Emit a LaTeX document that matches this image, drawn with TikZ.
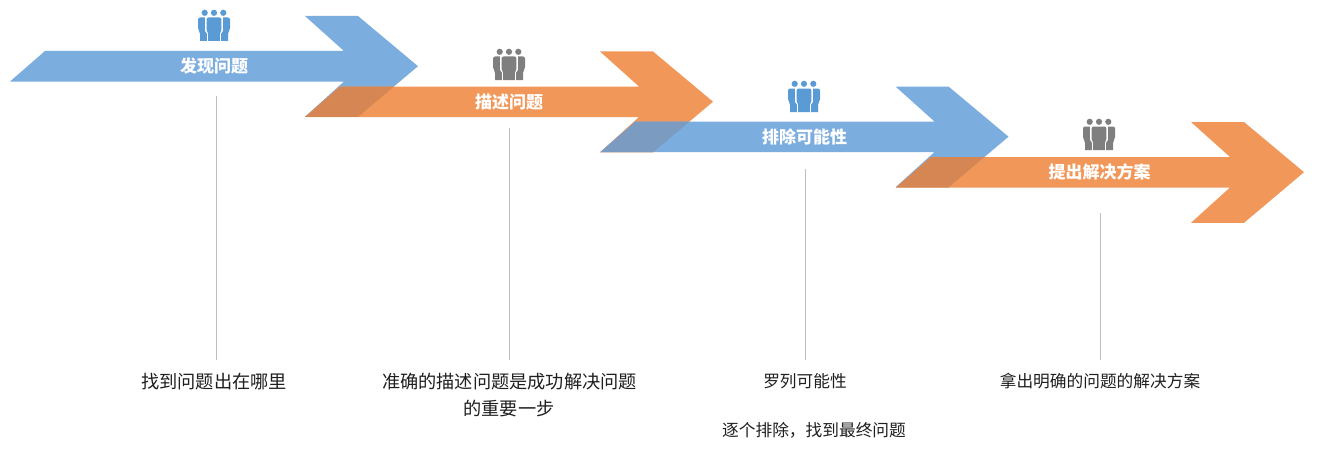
\documentclass[tikz,border=0pt]{standalone}
\usepackage{fontspec}
\setmainfont{Noto Sans CJK SC}
\definecolor{arrowblue}{HTML}{7CADDF}
\definecolor{arroworange}{HTML}{F19759}
\definecolor{mixorange}{HTML}{D58652}
\definecolor{mixblue}{HTML}{7B9BC0}
\definecolor{iconblue}{HTML}{5B9BD5}
\definecolor{icongray}{HTML}{7F7F7F}
\definecolor{leader}{HTML}{BFBFBF}
\newcommand{\ArrowShape}[2]{[shift={(#1,#2)}] (0,0) -- (35,-30.5) -- (334,-30.5) -- (295,-65.5) -- (348,-65.5) -- (408,-15.3) -- (348,35.3) -- (295,35.3) -- (334,0) -- cycle}
\newcommand{\Overlap}[5]{\begin{scope}\clip \ArrowShape{#1}{#2}; \fill[#5] \ArrowShape{#3}{#4};\end{scope}}
\tikzset{
  x=1pt,y=-1pt,
  title/.style={text=white,font=\fontsize{17}{20}\selectfont\bfseries,inner sep=0pt,anchor=center},
  caption/.style={text=black!88,font=\fontsize{18.2}{22}\selectfont,inner sep=0pt,anchor=center},
  smallcaption/.style={caption,font=\fontsize{16.7}{20}\selectfont},
  leaderline/.style={draw=leader,line width=0.9pt},
  person/.pic={
    \fill (-9.3,-3.2) circle (3.1) (0,-3.2) circle (3.1) (9.3,-3.2) circle (3.1);
    \fill (-14,25) -- (-14,18) -- (-16,12) [rounded corners=2pt] -- (-16,1.5) -- (-10,1.5) [sharp corners] -- (-5,1.5) -- (-5,25) -- cycle;
    \fill (14,25) -- (14,18) -- (16,12) [rounded corners=2pt] -- (16,1.5) -- (10,1.5) [sharp corners] -- (5,1.5) -- (5,25) -- cycle;
    \fill[white] (-8.8,0.5) -- (8.8,0.5) -- (8.8,15) -- (6.8,18) -- (6.8,26) -- (-6.8,26) -- (-6.8,18) -- (-8.8,15) -- cycle;
    \fill (-5.8,25) -- (-5.8,18) -- (-7.4,14) [rounded corners=2pt] -- (-7.4,1.5) -- (7.4,1.5) [sharp corners] -- (7.4,14) -- (5.8,18) -- (5.8,25) -- cycle;
  }
}
\begin{document}
\begin{tikzpicture}
\useasboundingbox (0,0) rectangle (1329,452);
\fill[white] (0,0) rectangle (1329,452);
\fill[arrowblue] \ArrowShape{10}{81.5};
\fill[arroworange] \ArrowShape{305}{117};
\fill[arrowblue] \ArrowShape{600.5}{152};
\fill[arroworange] \ArrowShape{896}{187.5};
\Overlap{10}{81.5}{305}{117}{mixorange}
\Overlap{305}{117}{600.5}{152}{mixblue}
\Overlap{600.5}{152}{896}{187.5}{mixorange}

\pic[iconblue] at (214,16) {person};
\pic[icongray] at (509,55) {person};
\pic[iconblue] at (804,87) {person};
\pic[icongray] at (1099,125) {person};

\node[title] (t1) at (214,66) {发现问题};
\node[title] (t2) at (509,102) {描述问题};
\node[title] (t3) at (804.5,136.5) {排除可能性};
\node[title] (t4) at (1099.5,172) {提出解决方案};

\node[caption] (c1) at (214,382) {找到问题出在哪里};
\node[caption] (c2) at (509.5,382) {准确的描述问题是成功解决问题};
\node[caption] (c2b) at (509,409) {的重要一步};
\node[smallcaption] (c3) at (805,381) {罗列可能性};
\node[smallcaption] (c3b) at (814,430) {逐个排除，找到最终问题};
\node[smallcaption] (c4) at (1100,381) {拿出明确的问题的解决方案};

\coordinate (a1) at (216,96);  \coordinate (b1) at (216,360);
\coordinate (a2) at (509,128); \coordinate (b2) at (509,360);
\coordinate (a3) at (805,169); \coordinate (b3) at (805,360);
\coordinate (a4) at (1100.5,213); \coordinate (b4) at (1100.5,360);
\draw[leaderline] (a1) -- (b1);
\draw[leaderline] (a2) -- (b2);
\draw[leaderline] (a3) -- (b3);
\draw[leaderline] (a4) -- (b4);
\end{tikzpicture}
\end{document}
